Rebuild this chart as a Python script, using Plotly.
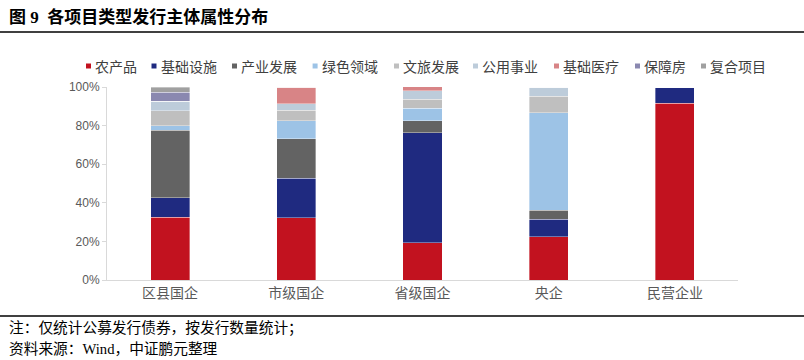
import plotly.graph_objects as go

categories = ["区县国企", "市级国企", "省级国企", "央企", "民营企业"]
series_names = ["农产品", "基础设施", "产业发展", "绿色领域", "文旅发展", "公用事业", "基础医疗", "保障房", "复合项目"]
agri = [32.5, 32.3, 19.3, 22.5, 91.7]
infra = [10.0, 20.4, 56.9, 9.0, 8.3]
industry = [35.0, 20.5, 6.4, 4.7, 0]
green = [2.3, 9.2, 6.4, 50.4, 0]
culture = [7.8, 5.5, 4.7, 8.6, 0]
utility = [5.0, 3.3, 4.3, 4.8, 0]
medical = [0, 8.8, 2.1, 0, 0]
housing = [4.6, 0, 0, 0, 0]
composite = [2.8, 0, 0, 0, 0]
series_values = [agri, infra, industry, green, culture, utility, medical, housing, composite]
colors = ["#C2121F", "#1F2A80", "#636363", "#9DC3E6", "#BFBFBF", "#BDCCDA", "#D88486", "#8A88B0", "#A0A0A0"]
y_ticks = [0, 20, 40, 60, 80, 100]
y_tick_labels = ["0%", "20%", "40%", "60%", "80%", "100%"]

W, H = 804, 360
L, R, T, B = 107, 66, 87, 80
PW, PH = W - L - R, H - T - B

def px_x(x):
    return (x - L) / PW

def px_y(y):
    return (H - B - y) / PH

CJK = "Microsoft YaHei, Noto Sans CJK SC, sans-serif"
LAT = "Liberation Sans, Arial, Noto Sans CJK SC, sans-serif"
SERIF = "Liberation Serif, Noto Sans CJK SC, serif"

fig = go.Figure()
for name, vals, col in zip(series_names, series_values, colors):
    fig.add_trace(go.Bar(
        x=categories, y=vals, name=name, marker_color=col,
        marker_line=dict(color="rgba(255,255,255,0.6)", width=0.6),
        width=0.31, showlegend=False,
    ))

shapes = []
annotations = []
# custom legend
legend_x = [86, 151.5, 232, 312.6, 394, 473, 554, 635, 701]
legend_y = 66
for lx, name, col in zip(legend_x, series_names, colors):
    shapes.append(dict(type="rect", xref="paper", yref="paper",
                       xsizemode="pixel", ysizemode="pixel",
                       xanchor=px_x(lx + 2.5), yanchor=px_y(legend_y),
                       x0=-2.5, x1=2.5, y0=-2.5, y1=2.5,
                       fillcolor=col, line=dict(width=0)))
    annotations.append(dict(text=name, xref="paper", yref="paper",
                            x=px_x(lx + 7), y=px_y(legend_y),
                            xanchor="left", yanchor="middle", showarrow=False,
                            font=dict(family=CJK, size=14, color="#404040")))

# title and rules
annotations.append(dict(text="<b>图 9  各项目类型发行主体属性分布</b>", xref="paper", yref="paper",
                        x=px_x(7), y=px_y(17), xanchor="left", yanchor="middle",
                        showarrow=False,
                        font=dict(family=SERIF, size=17, color="#000000")))
shapes.append(dict(type="line", xref="paper", yref="paper",
                   x0=px_x(0), x1=px_x(W), y0=px_y(32), y1=px_y(32),
                   line=dict(color="#000000", width=1.5)))
shapes.append(dict(type="line", xref="paper", yref="paper",
                   x0=px_x(0), x1=px_x(W), y0=px_y(316), y1=px_y(316),
                   line=dict(color="#000000", width=1.5)))
annotations.append(dict(text="注：仅统计公募发行债券，按发行数量统计；", xref="paper", yref="paper",
                        x=px_x(7), y=px_y(328), xanchor="left", yanchor="middle",
                        showarrow=False,
                        font=dict(family=SERIF, size=14.7, color="#000000")))
annotations.append(dict(text="资料来源：Wind，中证鹏元整理", xref="paper", yref="paper",
                        x=px_x(7), y=px_y(349), xanchor="left", yanchor="middle",
                        showarrow=False,
                        font=dict(family=SERIF, size=14.7, color="#000000")))

fig.update_layout(
    barmode="stack",
    width=W, height=H,
    margin=dict(l=L, r=R, t=T, b=B, pad=0),
    paper_bgcolor="white", plot_bgcolor="white",
    shapes=shapes, annotations=annotations,
    xaxis=dict(showline=True, linecolor="#D9D9D9", linewidth=1, ticks="",
               showgrid=False, zeroline=False,
               tickfont=dict(family=CJK, size=14, color="#595959")),
    yaxis=dict(range=[0, 100], tickvals=y_ticks, ticktext=y_tick_labels,
               showline=True, linecolor="#D9D9D9", linewidth=1,
               ticks="outside", ticklen=4, tickcolor="#D9D9D9",
               showgrid=False, zeroline=False,
               tickfont=dict(family=LAT, size=12, color="#595959")),
)

fig.write_html("out.html",
               config={"displayModeBar": False},
               post_script="document.body.style.margin='0';document.body.style.overflow='hidden';")
